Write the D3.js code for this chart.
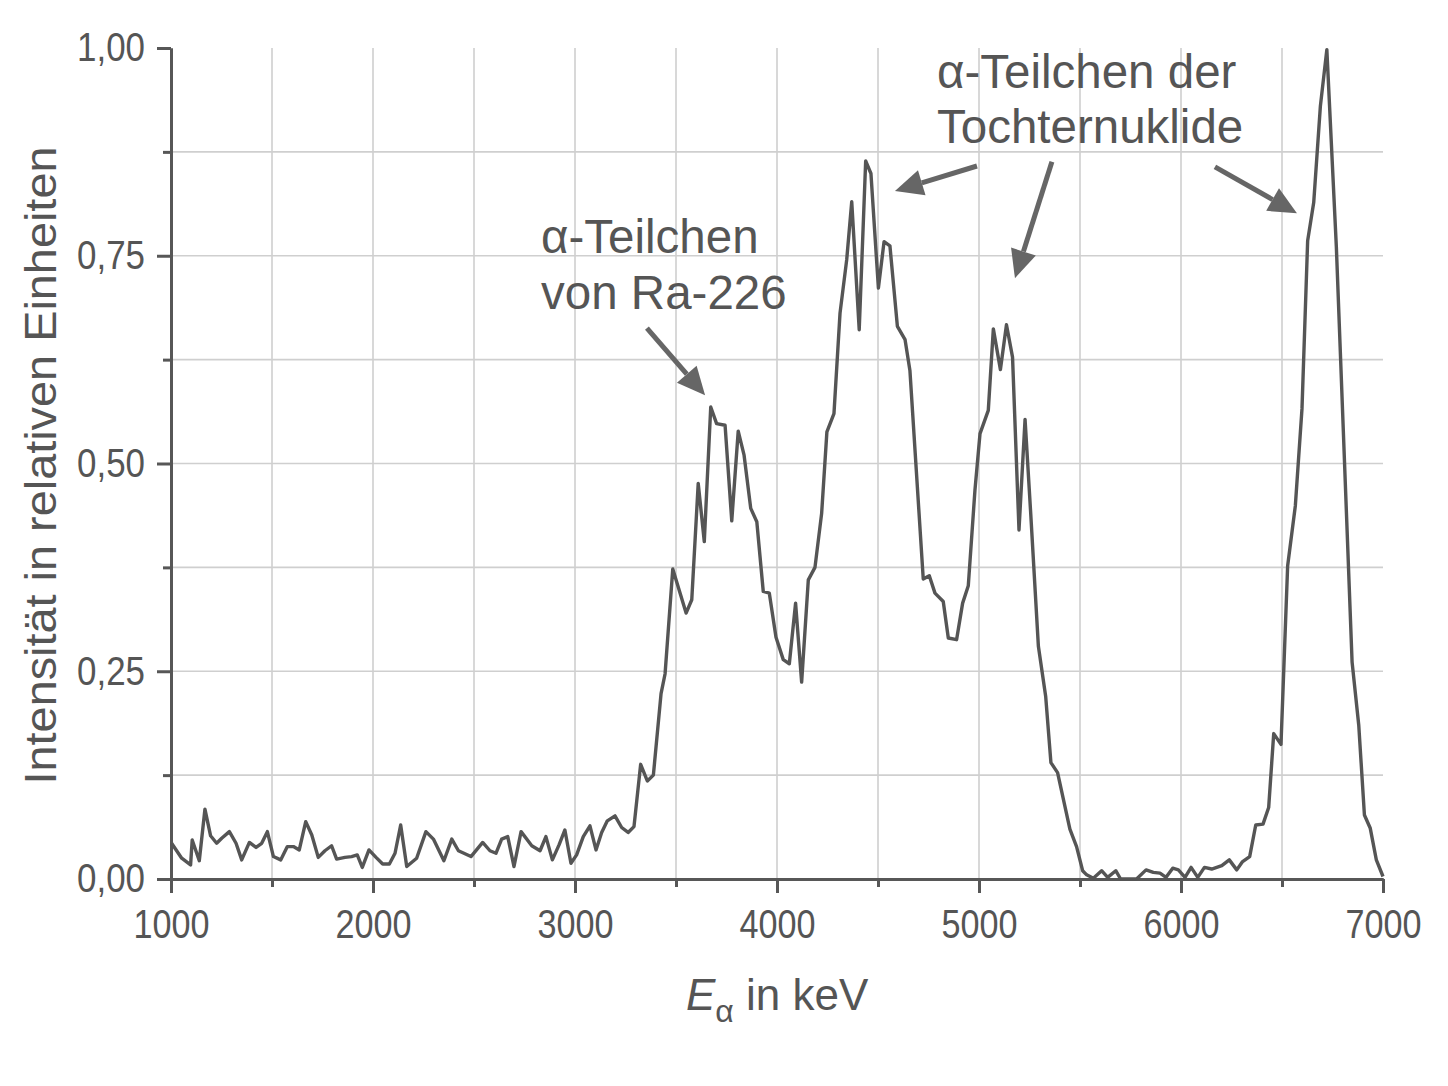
<!DOCTYPE html>
<html>
<head>
<meta charset="utf-8">
<script src="https://cdn.jsdelivr.net/npm/d3@7"></script>
<style>
  html, body { margin: 0; padding: 0; background: #fff; }
  svg text { font-family: "Liberation Sans", Arial, sans-serif; fill: #555; }
</style>
</head>
<body>
<svg id="chart"></svg>
<script>
// alpha spectrum of Ra-226
const energy = [
  1003,1053,1097,1105,1140,1168,1196,1226,1251,1289,1322,1350,1388,1421,1449,1477,
  1507,1543,1576,1606,1635,1667,1697,1729,1762,1795,1820,1861,1894,1922,1947,1980,
  2015,2048,2081,2109,2137,2167,2216,2262,2299,2351,2390,2423,2485,2543,2579,2609,
  2637,2667,2698,2733,2786,2827,2856,2888,2921,2950,2980,3008,3041,3074,3104,3132,
  3160,3198,3231,3263,3292,3325,3358,3388,3426,3446,3484,3550,3578,3610,3640,3672,
  3701,3743,3776,3808,3837,3870,3900,3932,3962,3995,4031,4061,4092,4122,4155,4188,
  4221,4247,4282,4312,4345,4370,4407,4439,4465,4502,4530,4559,4596,4634,4658,4724,
  4754,4782,4823,4848,4889,4919,4947,4980,5005,5046,5071,5106,5136,5166,5198,5228,
  5256,5294,5330,5356,5389,5450,5483,5513,5533,5566,5607,5637,5677,5701,5780,5827,
  5863,5896,5926,5959,5987,6020,6050,6083,6116,6152,6202,6239,6276,6305,6340,6370,
  6406,6434,6459,6495,6528,6566,6599,6627,6657,6690,6722,6769,6847,6880,6908,6937,
  6967,7000
];
const intensity = [
  0.043,0.025,0.017,0.047,0.022,0.084,0.052,0.043,0.049,0.057,0.043,0.023,0.044,0.038,0.043,0.057,
  0.027,0.023,0.039,0.039,0.035,0.069,0.053,0.026,0.034,0.040,0.024,0.026,0.027,0.029,0.014,0.035,
  0.026,0.018,0.018,0.031,0.065,0.015,0.025,0.057,0.048,0.022,0.048,0.034,0.027,0.044,0.034,0.031,
  0.048,0.051,0.015,0.057,0.040,0.034,0.051,0.023,0.041,0.059,0.019,0.029,0.051,0.064,0.035,0.056,
  0.070,0.076,0.062,0.056,0.063,0.138,0.118,0.125,0.223,0.247,0.373,0.320,0.336,0.476,0.406,0.568,
  0.548,0.546,0.431,0.539,0.510,0.446,0.430,0.346,0.344,0.291,0.264,0.259,0.332,0.237,0.360,0.375,
  0.440,0.538,0.560,0.681,0.745,0.815,0.661,0.864,0.849,0.711,0.767,0.762,0.665,0.649,0.612,0.361,
  0.365,0.344,0.334,0.290,0.288,0.332,0.353,0.468,0.536,0.564,0.662,0.613,0.667,0.628,0.420,0.553,
  0.440,0.280,0.220,0.140,0.128,0.060,0.039,0.010,0.005,0.001,0.010,0.002,0.010,0.000,0.000,0.011,
  0.008,0.007,0.002,0.013,0.011,0.002,0.014,0.002,0.014,0.012,0.016,0.023,0.011,0.021,0.027,0.065,
  0.066,0.086,0.175,0.162,0.377,0.449,0.566,0.768,0.814,0.930,0.998,0.761,0.261,0.185,0.077,0.061,
  0.023,0.003
];

const xTicks      = [1000, 2000, 3000, 4000, 5000, 6000, 7000];
const xMinorTicks = [1500, 2500, 3500, 4500, 5500, 6500];
const yTicks      = [0, 0.25, 0.5, 0.75, 1.0];
const yTickLabels = ["0,00", "0,25", "0,50", "0,75", "1,00"];
const yMinorTicks = [0.125, 0.375, 0.625, 0.875];
const xGrid       = [1500, 2000, 2500, 3000, 3500, 4000, 4500, 5000, 5500, 6000, 6500];
const yGrid       = [0.125, 0.25, 0.375, 0.5, 0.625, 0.75, 0.875];

// annotations in data units: text lines and arrows [fromE, fromI, toE, toI]
const labelRa     = ["α-Teilchen", "von Ra-226"];
const labelDaught = ["α-Teilchen der", "Tochternuklide"];
const arrows = [
  [3356, 0.663, 3644, 0.582],
  [4990, 0.858, 4584, 0.828],
  [5361, 0.863, 5178, 0.723],
  [6168, 0.857, 6574, 0.801]
];

const W = 1448, H = 1086;
const m = { left: 171, right: 65, top: 48, bottom: 207 };

const svg = d3.select("#chart").attr("width", W).attr("height", H);
svg.append("rect").attr("width", W).attr("height", H).attr("fill", "#fff");

const x = d3.scaleLinear().domain([1000, 7000]).range([m.left, W - m.right]);
const y = d3.scaleLinear().domain([0, 1]).range([H - m.bottom, m.top]);

const ink = "#575757";

// grid
const grid = svg.append("g").attr("stroke", "#cfcfcf").attr("stroke-width", 1.6);
grid.selectAll(".gx").data(xGrid).join("line")
    .attr("x1", d => x(d)).attr("x2", d => x(d))
    .attr("y1", y(1)).attr("y2", y(0));
grid.selectAll(".gy").data(yGrid).join("line")
    .attr("x1", x(1000)).attr("x2", x(7000))
    .attr("y1", d => y(d)).attr("y2", d => y(d));

// axes (major + minor ticks)
function styleAxis(g) {
  g.select(".domain").attr("stroke", ink).attr("stroke-width", 3);
  g.selectAll(".tick line").attr("stroke", ink).attr("stroke-width", 3);
}

svg.append("g")
    .attr("transform", `translate(0,${y(0)})`)
    .call(d3.axisBottom(x).tickValues(xMinorTicks).tickSize(8).tickFormat("").tickSizeOuter(0))
    .call(styleAxis);
const xAx = svg.append("g")
    .attr("transform", `translate(0,${y(0)})`)
    .call(d3.axisBottom(x).tickValues(xTicks).tickSize(14).tickPadding(17).tickSizeOuter(0)
      .tickFormat(d3.format("d")))
    .call(styleAxis);
xAx.selectAll(".tick text")
    .attr("font-size", 40).attr("fill", ink)
    .attr("textLength", 76).attr("lengthAdjust", "spacingAndGlyphs");

svg.append("g")
    .attr("transform", `translate(${x(1000)},0)`)
    .call(d3.axisLeft(y).tickValues(yMinorTicks).tickSize(8).tickFormat("").tickSizeOuter(0))
    .call(styleAxis);
const yAx = svg.append("g")
    .attr("transform", `translate(${x(1000)},0)`)
    .call(d3.axisLeft(y).tickValues(yTicks).tickSize(14).tickPadding(12).tickSizeOuter(0)
      .tickFormat((d, i) => yTickLabels[i]))
    .call(styleAxis);
yAx.selectAll(".tick text")
    .attr("font-size", 40).attr("fill", ink)
    .attr("textLength", 68).attr("lengthAdjust", "spacingAndGlyphs");

// spectrum line
const pts = energy.map((e, i) => [e, intensity[i]]);
svg.append("path")
    .datum(pts)
    .attr("fill", "none")
    .attr("stroke", "#555")
    .attr("stroke-width", 3.4)
    .attr("stroke-linejoin", "round")
    .attr("d", d3.line().x(d => x(d[0])).y(d => y(d[1])));

// axis titles
const xt = svg.append("text")
    .attr("x", 686).attr("y", 1010)
    .attr("font-size", 44).attr("fill", ink);
xt.append("tspan").attr("font-style", "italic").text("E");
xt.append("tspan").attr("font-size", 32).attr("dy", 12).text("α");
xt.append("tspan").attr("dy", -12).text(" in keV");

svg.append("text")
    .attr("transform", `translate(56,${(y(0) + y(1)) / 2 + 2}) rotate(-90)`)
    .attr("text-anchor", "middle")
    .attr("font-size", 45).attr("fill", ink)
    .attr("textLength", 638).attr("lengthAdjust", "spacingAndGlyphs")
    .text("Intensität in relativen Einheiten");

// annotations
svg.selectAll(".lab1").data(labelRa).join("text")
    .attr("x", x(2832)).attr("y", (d, i) => 253 + i * 56)
    .attr("font-size", 47.5).attr("fill", ink)
    .text(d => d);
svg.selectAll(".lab2").data(labelDaught).join("text")
    .attr("x", x(4792)).attr("y", (d, i) => 88 + i * 55)
    .attr("font-size", 47.5).attr("fill", ink)
    .text(d => d);

// arrows
const headLen = 28, headW = 13;
arrows.forEach(a => {
  const x1 = x(a[0]), y1 = y(a[1]), x2 = x(a[2]), y2 = y(a[3]);
  const ang = Math.atan2(y2 - y1, x2 - x1);
  const bx = x2 - headLen * Math.cos(ang), by = y2 - headLen * Math.sin(ang);
  svg.append("line")
      .attr("x1", x1).attr("y1", y1).attr("x2", bx).attr("y2", by)
      .attr("stroke", "#666").attr("stroke-width", 5);
  const px = -Math.sin(ang) * headW, py = Math.cos(ang) * headW;
  svg.append("path")
      .attr("d", `M${x2},${y2} L${bx + px},${by + py} L${bx - px},${by - py} Z`)
      .attr("fill", "#666");
});
</script>
</body>
</html>
